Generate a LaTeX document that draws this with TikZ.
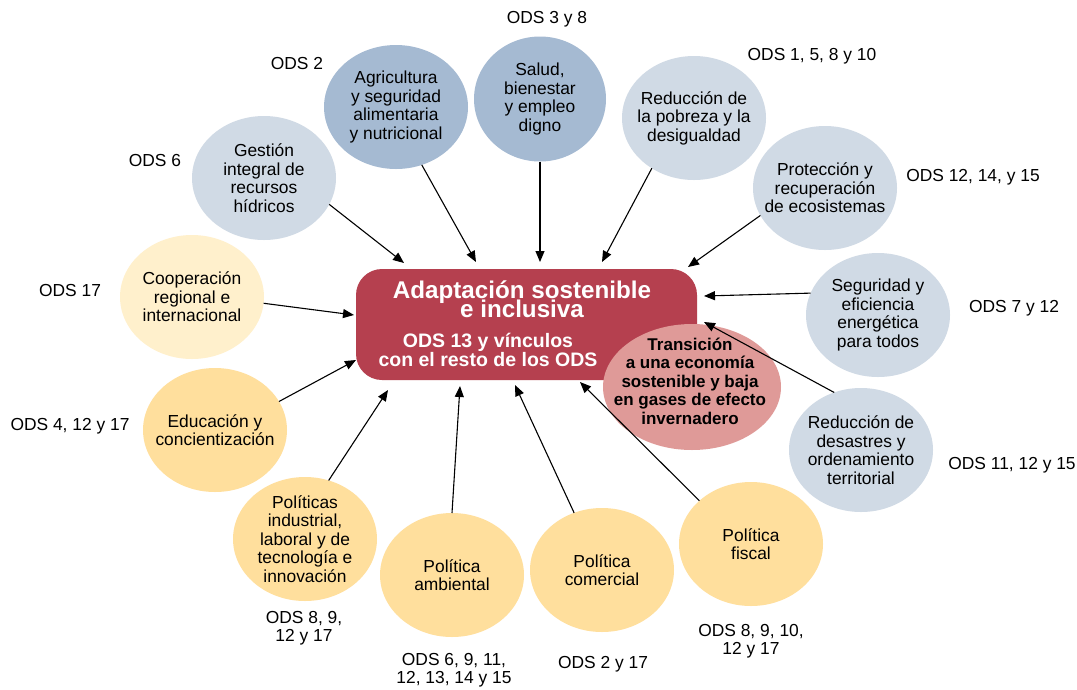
\documentclass[tikz,border=0pt]{standalone}
\usepackage{fontspec}
\setmainfont{Liberation Sans}
\usetikzlibrary{shapes.geometric,arrows.meta}
\definecolor{lblue}{HTML}{D0DAE5}
\definecolor{dblue}{HTML}{A5BAD2}
\definecolor{lyel}{HTML}{FFF0CC}
\definecolor{yel}{HTML}{FFDF9D}
\definecolor{corered}{HTML}{B5404F}
\definecolor{trpink}{HTML}{DF9A98}
\newcommand\tightlines{\lineskiplimit=-50pt\relax}
\tikzset{
 bub/.style={ellipse, minimum width=144pt, minimum height=124pt, inner xsep=-25pt, inner ysep=-15pt, outer sep=0pt, align=center, font=\fontsize{17.4}{18.5}\selectfont\tightlines, text=black},
 ods/.style={align=center, font=\fontsize{17.4}{18.5}\selectfont\tightlines, inner sep=0pt},
 arr/.style={line width=1.1pt, -{Triangle[length=11pt,width=9pt]}},
}
\begin{document}
\begin{tikzpicture}[x=1pt,y=-1pt]
\useasboundingbox[fill=white] (0,0) rectangle (1077,689);
% bubbles
\node[bub, fill=lblue] (ges) at (264,178) {Gestión\\integral de\\recursos\\hídricos};
\node[bub, fill=dblue] (agr) at (396,107) {Agricultura\\y seguridad\\alimentaria\\y nutricional};
\node[bub, fill=dblue, minimum width=132pt, minimum height=125pt] (sal) at (540,99) {Salud,\\bienestar\\y empleo\\digno};
\node[bub, fill=lblue] (pob) at (694,118) {Reducción de\\la pobreza y la\\desigualdad};
\node[bub, fill=lblue] (pro) at (825,188) {Protección y\\recuperación\\de ecosistemas};
\node[bub, fill=lblue] (seg) at (878,315) {Seguridad y\\eficiencia\\energética\\para todos};
\node[bub, fill=lblue] (des) at (861,450) {Reducción de\\desastres y\\ordenamiento\\territorial};
\node[bub, fill=yel] (fis) at (751,544) {Política\\fiscal};
\node[bub, fill=yel] (com) at (602,570) {Política\\comercial};
\node[bub, fill=yel] (amb) at (452,575) {Política\\ambiental};
\node[bub, fill=yel] (ind) at (305,539) {Políticas\\industrial,\\laboral y de\\tecnología e\\innovación};
\node[bub, fill=yel] (edu) at (215,430) {Educación y\\concientización};
\node[bub, fill=lyel] (coo) at (192,297) {Cooperación\\regional e\\internacional};
% core
\node[fill=corered, rounded corners=26pt, minimum width=341pt, minimum height=111pt, inner sep=0pt] (core) at (526.5,324.5) {};
\node[font=\bfseries\fontsize{24.2}{19.5}\selectfont\tightlines, text=white, align=center, inner sep=0pt] (tit) at (522,299) {Adaptación sostenible\\e inclusiva};
\node[font=\bfseries\fontsize{19.5}{18.5}\selectfont\tightlines, text=white, align=center, inner sep=0pt] (sub) at (488,350) {ODS 13 y vínculos\\con el resto de los ODS};
\node[ellipse, fill=trpink, minimum width=178pt, minimum height=126pt, inner sep=0pt] (tra) at (692,387) {};
\node[font=\bfseries\fontsize{17}{18.5}\selectfont\tightlines, align=center, inner sep=0pt] (trat) at (690,381) {Transición\\a una economía\\sostenible y baja\\en gases de efecto\\invernadero};
% ODS labels
\node[ods] (o1) at (547,19) {ODS 3 y 8};
\node[ods] (o2) at (297,64) {ODS 2};
\node[ods] (o3) at (155,161) {ODS 6};
\node[ods] (o4) at (812,56) {ODS 1, 5, 8 y 10};
\node[ods] (o5) at (973,177) {ODS 12, 14, y 15};
\node[ods] (o6) at (1014,308) {ODS 7 y 12};
\node[ods] (o7) at (1012,465) {ODS 11, 12 y 15};
\node[ods] (o8) at (70,291) {ODS 17};
\node[ods] (o9) at (70,426) {ODS 4, 12 y 17};
\node[ods] (o10) at (304,628) {ODS 8, 9,\\12 y 17};
\node[ods] (o11) at (454,670) {ODS 6, 9, 11,\\12, 13, 14 y 15};
\node[ods] (o12) at (603,664) {ODS 2 y 17};
\node[ods] (o13) at (751,641) {ODS 8, 9, 10,\\12 y 17};
% arrow heads
\coordinate (h1) at (404,263);
\coordinate (h2) at (476,262);
\coordinate (h3) at (540,262);
\coordinate (h4) at (602,262);
\coordinate (h5) at (688,267);
\coordinate (h6) at (704,296);
\coordinate (h7) at (704,322);
\coordinate (h8) at (580,382);
\coordinate (h9) at (515,385);
\coordinate (h10) at (460,386);
\coordinate (h11) at (388,390);
\coordinate (h12) at (356,360);
\coordinate (h13) at (354,315);
\draw[arr] (ges.-22) -- (h1);
\draw[arr] (agr.-66) -- (h2);
\draw[arr] (sal.-90) -- (h3);
\draw[arr] (pob.-130) -- (h4);
\draw[arr] (pro.-157) -- (h5);
\draw[arr] (seg.162) -- (h6);
\draw[arr] (des.115) -- (h7);
\draw[arr] (fis.140) -- (h8);
\draw[arr] (com.116) -- (h9);
\draw[arr] (amb.90) -- (h10);
\draw[arr] (ind.68) -- (h11);
\draw[arr] (edu.24) -- (h12);
\draw[arr] (coo.-5) -- (h13);
\end{tikzpicture}
\end{document}
